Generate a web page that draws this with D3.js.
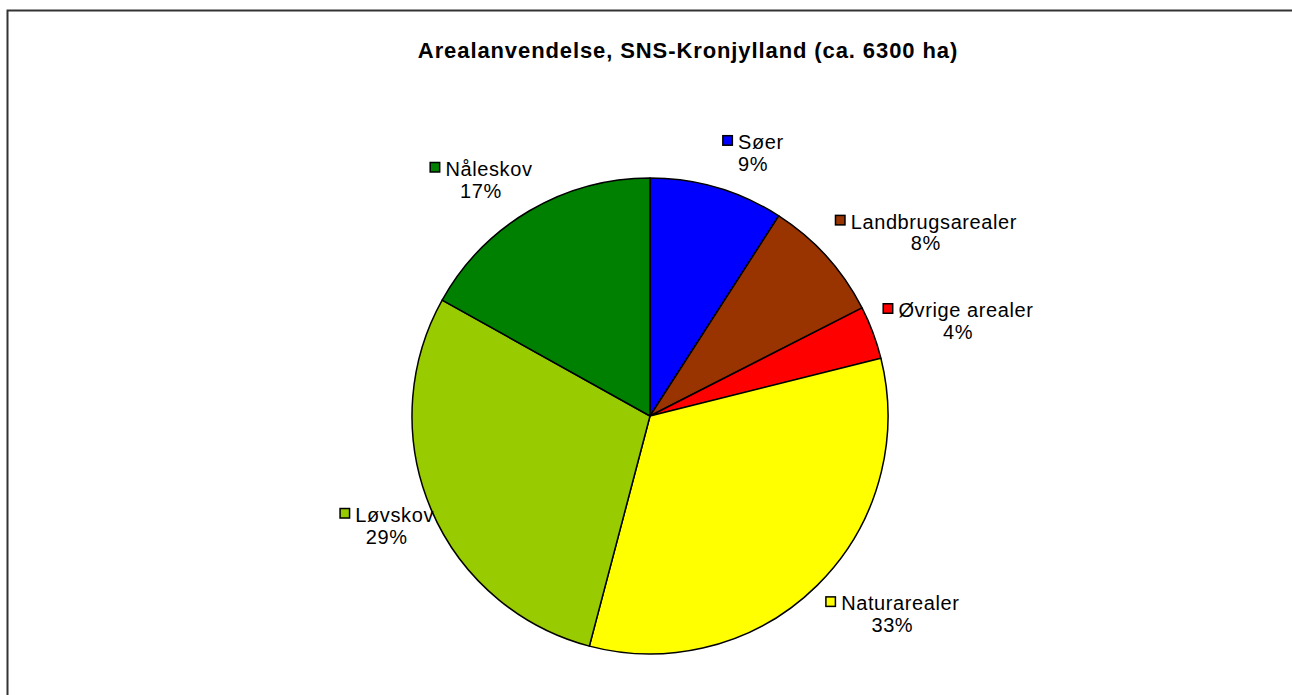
<!DOCTYPE html>
<html>
<head>
<meta charset="utf-8">
<script src="https://cdn.jsdelivr.net/npm/d3@7"></script>
<style>
  html, body { margin: 0; padding: 0; background: #fff; }
  svg { display: block; }
  text { font-family: Arial, 'Liberation Sans', sans-serif; fill: #000; }
</style>
</head>
<body>
<svg id="chart" width="1292" height="695"></svg>
<script>
// data (percent of area)
const categories = ['Søer', 'Landbrugsarealer', 'Øvrige arealer', 'Naturarealer', 'Løvskov', 'Nåleskov'];
const shares = [9.1, 8.4, 3.6, 33.0, 29.0, 16.9];
const sliceColors = ['#0000ff', '#993300', '#ff0000', '#ffff00', '#99cc00', '#008000'];
const chartTitle = 'Arealanvendelse, SNS-Kronjylland (ca. 6300 ha)';

const svg = d3.select('#chart');
const width = 1292, height = 695;
const cx = 650, cy = 416, radius = 238;

// chart frame (runs off the right/bottom of the window like the reference)
svg.append('rect')
  .attr('x', 7.5).attr('y', 10.5)
  .attr('width', width + 20).attr('height', height + 20)
  .attr('fill', '#fff')
  .attr('stroke', '#333')
  .attr('stroke-width', 2);

svg.append('text')
  .attr('x', 688)
  .attr('y', 58)
  .attr('text-anchor', 'middle')
  .style('font-size', '22px')
  .style('font-weight', 'bold')
  .style('letter-spacing', '0.9px')
  .text(chartTitle);

const data = categories.map((c, i) => ({ name: c, value: shares[i], color: sliceColors[i] }));
const total = d3.sum(shares);

const pie = d3.pie().sort(null).value(d => d.value);
const arc = d3.arc().innerRadius(0).outerRadius(radius);
const arcs = pie(data);

const g = svg.append('g').attr('transform', `translate(${cx},${cy})`);

g.selectAll('path')
  .data(arcs)
  .join('path')
  .attr('d', arc)
  .attr('fill', d => d.data.color)
  .attr('stroke', '#000')
  .attr('stroke-width', 1.5)
  .attr('stroke-linejoin', 'round');

// labels: legend key + name, percent underneath
const fontSize = 20, lineGap = 21.5, keySize = 11, keyGap = 5;
const labels = g.selectAll('g.lbl')
  .data(arcs)
  .join('g')
  .attr('class', 'lbl');

labels.each(function (d) {
  const lg = d3.select(this);
  const name = lg.append('text')
    .style('font-size', fontSize + 'px')
    .style('letter-spacing', '0.6px')
    .text(d.data.name);
  const pct = lg.append('text')
    .style('font-size', fontSize + 'px')
    .style('letter-spacing', '0.6px')
    .attr('text-anchor', 'middle')
    .text(Math.round(d.data.value / total * 100) + '%');

  const tw = name.node().getComputedTextLength();
  const w = keySize + keyGap + tw;
  const a = (d.startAngle + d.endAngle) / 2;
  const px = Math.sin(a) * radius, py = -Math.cos(a) * radius;
  const s = Math.sin(a) >= 0 ? 1 : -1;
  const bx = px + s * w / 2 + (s > 0 ? Math.sin(a) * 7 : 0) + 3;
  const by = py - Math.cos(a) * 38;

  const left = bx - w / 2;
  const top = by - 18;
  lg.insert('rect', 'text')
    .attr('x', left + 0.75)
    .attr('y', top + 2.5)
    .attr('width', keySize - 1.5)
    .attr('height', keySize - 1.5)
    .attr('fill', d.data.color)
    .attr('stroke', '#000')
    .attr('stroke-width', 1.5);
  name.attr('x', left + keySize + keyGap).attr('y', top + 16);
  pct.attr('x', bx).attr('y', top + 16 + lineGap);
});
</script>
</body>
</html>
